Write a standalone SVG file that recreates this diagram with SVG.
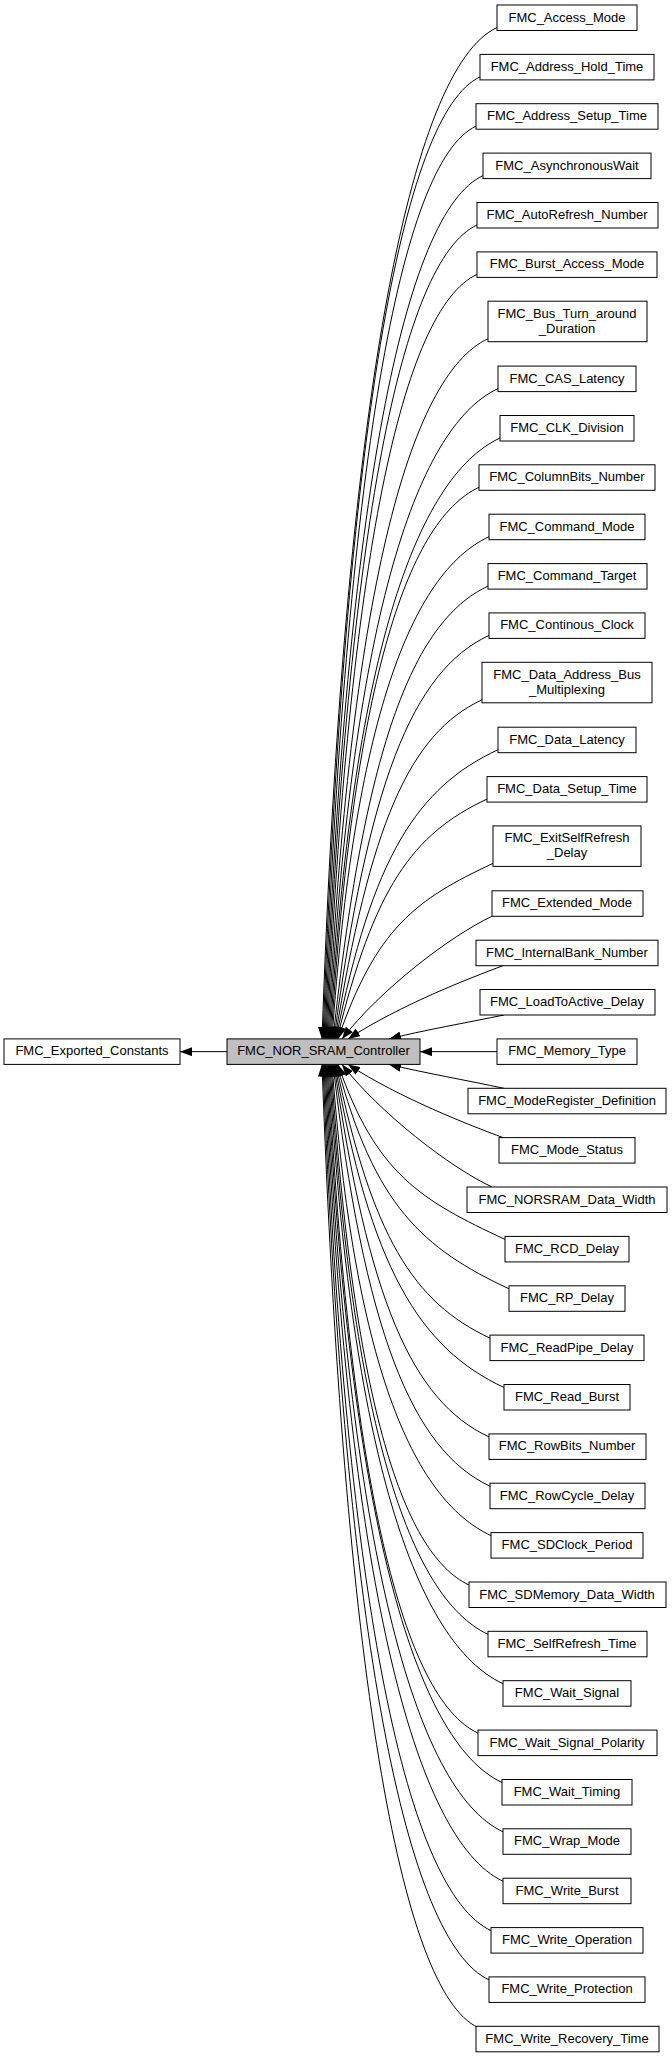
<svg xmlns="http://www.w3.org/2000/svg" width="672" height="2057" viewBox="0 0 672 2057">
<style>
rect{fill:#fff;stroke:#000;stroke-width:1}
rect.main{fill:#bfbfbf}
text{font-family:"Liberation Sans",Arial,sans-serif;font-size:13px;text-anchor:middle;fill:#000}
#edges path{fill:none;stroke:#000;stroke-width:1;marker-end:url(#ah)}
</style>
<defs>
<marker id="ah" viewBox="0 0 12 9" refX="12" refY="4.5" markerWidth="12" markerHeight="9" orient="auto" markerUnits="userSpaceOnUse"><path d="M0,0L12,4.5L0,9z" fill="#000"/></marker>
</defs>
<rect x="0" y="0" width="672" height="2057" style="fill:#fff;stroke:none"/>
<g id="edges">
<path d="M227,1051.65 L180,1051.65"/>
<path d="M497,27.5 C409.8,68.2 344,401.7 322,1038.9"/>
<path d="M480,76.9 C401.7,113.4 345,432.8 323,1038.9"/>
<path d="M476,126.2 C400.2,161.5 346,463.9 324,1038.9"/>
<path d="M483,175.6 C404.2,212.3 347,495 325,1038.9"/>
<path d="M477,225 C401.7,260.1 348,526.1 326,1038.9"/>
<path d="M477,274.4 C402.2,309.3 349,557.3 327,1038.9"/>
<path d="M488,338.7 C408.2,375.9 350,597.8 328,1038.9"/>
<path d="M498,388.6 C413.8,427.9 351,629.2 329,1038.9"/>
<path d="M500,438 C415.3,477.5 352,660.3 330,1038.9"/>
<path d="M479,487.3 C405.2,521.7 353,691.4 331,1038.9"/>
<path d="M489,536.7 C410.7,573.2 354,722.5 332,1038.9"/>
<path d="M488,586.1 C410.7,622.1 364,753.6 333,1038.9"/>
<path d="M489,635.4 C411.7,671.4 368,784.7 334,1038.9"/>
<path d="M482,699.8 C408.7,734 370,825.3 335,1038.9"/>
<path d="M498,749.7 C417.2,787.4 372,856.7 336,1038.9"/>
<path d="M487,799.1 C412.2,834 374,887.8 337,1038.9"/>
<path d="M493,863.4 C415.7,899.4 376,928.3 338,1038.9"/>
<path d="M492,916.3 C450,936 380,990 342,1038.9"/>
<path d="M503,965.7 C470,978 400,1005 348,1038.9"/>
<path d="M504,1015 C470,1022 420,1031 389,1038.9"/>
<path d="M497,1051.65 L420,1051.65"/>
<path d="M504,1088.3 C470,1081 420,1072 389,1064.4"/>
<path d="M503,1137.6 C470,1125.3 400,1098.3 348,1064.4"/>
<path d="M492,1187 C450,1167.3 380,1113.3 342,1064.4"/>
<path d="M505,1239.4 C421.8,1200.6 376,1174.6 338,1064.4"/>
<path d="M509,1288.8 C423.3,1248.8 374,1205.8 337,1064.4"/>
<path d="M490,1338.1 C413.2,1302.3 372,1236.8 336,1064.4"/>
<path d="M504,1387.5 C419.8,1348.2 370,1268 335,1064.4"/>
<path d="M489,1436.9 C411.7,1400.9 368,1299.1 334,1064.4"/>
<path d="M490,1486.2 C411.7,1449.7 364,1330.1 333,1064.4"/>
<path d="M491,1535.6 C411.7,1498.6 354,1361.3 332,1064.4"/>
<path d="M469,1585 C400.2,1552.9 353,1392.4 331,1064.4"/>
<path d="M488,1634.3 C409.2,1597.6 352,1423.4 330,1064.4"/>
<path d="M503,1683.7 C416.3,1643.3 351,1454.6 329,1064.4"/>
<path d="M478,1733.1 C403.2,1698.2 350,1485.7 328,1064.4"/>
<path d="M502,1782.5 C414.8,1741.8 349,1516.8 327,1064.4"/>
<path d="M503,1831.8 C414.8,1790.7 348,1547.9 326,1064.4"/>
<path d="M503,1881.2 C414.3,1839.8 347,1579 325,1064.4"/>
<path d="M491,1930.6 C407.8,1891.8 346,1610.1 324,1064.4"/>
<path d="M489,1979.9 C406.3,1941.3 345,1641.2 323,1064.4"/>
<path d="M478,2027.5 C400.2,1991.2 344,1671.2 322,1064.4"/>
</g>
<g id="n_exported"><rect x="4" y="1038.9" width="176" height="25.5"/><text x="92" y="1055.4">FMC_Exported_Constants</text></g>
<g id="n_main"><rect class="main" x="227" y="1038.9" width="193" height="25.5"/><text x="323.5" y="1055.4">FMC_NOR_SRAM_Controller</text></g>
<g id="n1"><rect x="497" y="5" width="140" height="25.5"/><text x="567" y="21.5">FMC_Access_Mode</text></g>
<g id="n2"><rect x="480" y="54.4" width="174" height="25.5"/><text x="567" y="70.9">FMC_Address_Hold_Time</text></g>
<g id="n3"><rect x="476" y="103.7" width="182" height="25.5"/><text x="567" y="120.2">FMC_Address_Setup_Time</text></g>
<g id="n4"><rect x="483" y="153.1" width="168" height="25.5"/><text x="567" y="169.6">FMC_AsynchronousWait</text></g>
<g id="n5"><rect x="477" y="202.5" width="181" height="25.5"/><text x="567" y="219">FMC_AutoRefresh_Number</text></g>
<g id="n6"><rect x="477" y="251.9" width="180" height="25.5"/><text x="567" y="268.4">FMC_Burst_Access_Mode</text></g>
<g id="n7"><rect x="488" y="301.2" width="159" height="40.5"/><text x="567" y="317.7">FMC_Bus_Turn_around</text><text x="567" y="332.7">_Duration</text></g>
<g id="n8"><rect x="498" y="366.1" width="138" height="25.5"/><text x="567" y="382.6">FMC_CAS_Latency</text></g>
<g id="n9"><rect x="500" y="415.5" width="134" height="25.5"/><text x="567" y="432">FMC_CLK_Division</text></g>
<g id="n10"><rect x="479" y="464.8" width="176" height="25.5"/><text x="567" y="481.3">FMC_ColumnBits_Number</text></g>
<g id="n11"><rect x="489" y="514.2" width="156" height="25.5"/><text x="567" y="530.7">FMC_Command_Mode</text></g>
<g id="n12"><rect x="488" y="563.6" width="159" height="25.5"/><text x="567" y="580.1">FMC_Command_Target</text></g>
<g id="n13"><rect x="489" y="612.9" width="156" height="25.5"/><text x="567" y="629.4">FMC_Continous_Clock</text></g>
<g id="n14"><rect x="482" y="662.3" width="170" height="40.5"/><text x="567" y="678.8">FMC_Data_Address_Bus</text><text x="567" y="693.8">_Multiplexing</text></g>
<g id="n15"><rect x="498" y="727.2" width="138" height="25.5"/><text x="567" y="743.7">FMC_Data_Latency</text></g>
<g id="n16"><rect x="487" y="776.6" width="160" height="25.5"/><text x="567" y="793.1">FMC_Data_Setup_Time</text></g>
<g id="n17"><rect x="493" y="825.9" width="148" height="40.5"/><text x="567" y="842.4">FMC_ExitSelfRefresh</text><text x="567" y="857.4">_Delay</text></g>
<g id="n18"><rect x="492" y="890.8" width="151" height="25.5"/><text x="567" y="907.3">FMC_Extended_Mode</text></g>
<g id="n19"><rect x="476" y="940.2" width="182" height="25.5"/><text x="567" y="956.7">FMC_InternalBank_Number</text></g>
<g id="n20"><rect x="480" y="989.5" width="175" height="25.5"/><text x="567" y="1006">FMC_LoadToActive_Delay</text></g>
<g id="n21"><rect x="497" y="1038.9" width="140" height="25.5"/><text x="567" y="1055.4">FMC_Memory_Type</text></g>
<g id="n22"><rect x="468" y="1088.3" width="198" height="25.5"/><text x="567" y="1104.8">FMC_ModeRegister_Definition</text></g>
<g id="n23"><rect x="499" y="1137.6" width="136" height="25.5"/><text x="567" y="1154.1">FMC_Mode_Status</text></g>
<g id="n24"><rect x="467" y="1187" width="200" height="25.5"/><text x="567" y="1203.5">FMC_NORSRAM_Data_Width</text></g>
<g id="n25"><rect x="505" y="1236.4" width="124" height="25.5"/><text x="567" y="1252.9">FMC_RCD_Delay</text></g>
<g id="n26"><rect x="509" y="1285.8" width="116" height="25.5"/><text x="567" y="1302.3">FMC_RP_Delay</text></g>
<g id="n27"><rect x="490" y="1335.1" width="154" height="25.5"/><text x="567" y="1351.6">FMC_ReadPipe_Delay</text></g>
<g id="n28"><rect x="504" y="1384.5" width="126" height="25.5"/><text x="567" y="1401">FMC_Read_Burst</text></g>
<g id="n29"><rect x="489" y="1433.9" width="157" height="25.5"/><text x="567" y="1450.4">FMC_RowBits_Number</text></g>
<g id="n30"><rect x="490" y="1483.2" width="155" height="25.5"/><text x="567" y="1499.7">FMC_RowCycle_Delay</text></g>
<g id="n31"><rect x="491" y="1532.6" width="152" height="25.5"/><text x="567" y="1549.1">FMC_SDClock_Period</text></g>
<g id="n32"><rect x="469" y="1582" width="197" height="25.5"/><text x="567" y="1598.5">FMC_SDMemory_Data_Width</text></g>
<g id="n33"><rect x="488" y="1631.3" width="159" height="25.5"/><text x="567" y="1647.8">FMC_SelfRefresh_Time</text></g>
<g id="n34"><rect x="503" y="1680.7" width="128" height="25.5"/><text x="567" y="1697.2">FMC_Wait_Signal</text></g>
<g id="n35"><rect x="478" y="1730.1" width="179" height="25.5"/><text x="567" y="1746.6">FMC_Wait_Signal_Polarity</text></g>
<g id="n36"><rect x="502" y="1779.5" width="130" height="25.5"/><text x="567" y="1796">FMC_Wait_Timing</text></g>
<g id="n37"><rect x="503" y="1828.8" width="128" height="25.5"/><text x="567" y="1845.3">FMC_Wrap_Mode</text></g>
<g id="n38"><rect x="503" y="1878.2" width="128" height="25.5"/><text x="567" y="1894.7">FMC_Write_Burst</text></g>
<g id="n39"><rect x="491" y="1927.6" width="152" height="25.5"/><text x="567" y="1944.1">FMC_Write_Operation</text></g>
<g id="n40"><rect x="489" y="1976.9" width="156" height="25.5"/><text x="567" y="1993.4">FMC_Write_Protection</text></g>
<g id="n41"><rect x="476" y="2026.3" width="183" height="25.5"/><text x="567" y="2042.8">FMC_Write_Recovery_Time</text></g>
</svg>
